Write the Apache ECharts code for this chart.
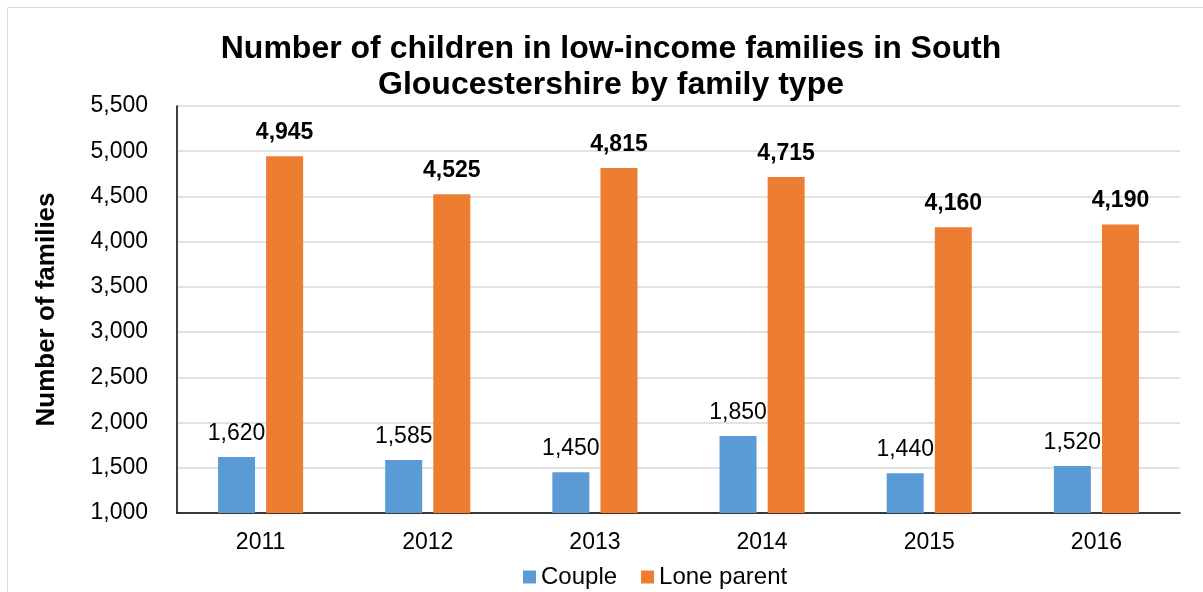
<!DOCTYPE html>
<html>
<head>
<meta charset="utf-8">
<script src="https://cdn.jsdelivr.net/npm/echarts@6/dist/echarts.min.js"></script>
<style>
  html, body { margin: 0; padding: 0; background: #fff; }
  #chart { width: 1203px; height: 592px; }
</style>
</head>
<body>
<div id="chart"></div>
<script>
// data
const years = ['2011', '2012', '2013', '2014', '2015', '2016'];
const couple = [1620, 1585, 1450, 1850, 1440, 1520];
const loneParent = [4945, 4525, 4815, 4715, 4160, 4190];

const fontFam = '"Liberation Sans", Arial, sans-serif';
const fmt = (p) => p.value.toLocaleString('en-US');

let myChart = echarts.init(document.getElementById('chart'));
let option = {
  color: ['#5B9BD5', '#ED7D31'],
  textStyle: { fontFamily: fontFam, color: '#000' },
  title: {
    text: 'Number of children in low-income families in South\nGloucestershire by family type',
    left: 606,
    textAlign: 'center',
    top: 26,
    textStyle: {
      fontSize: 32,
      fontWeight: 'bold',
      color: '#000',
      lineHeight: 36,
      fontFamily: fontFam,
    },
  },
  // outer frame
  graphic: [{
    type: 'rect',
    shape: { x: 7.5, y: 7.5, width: 1205, height: 600 },
    style: { fill: 'none', stroke: '#d9d9d9', lineWidth: 1 },
    silent: true,
  }],
  legend: {
    bottom: -2,
    left: 518,
    itemWidth: 13,
    itemHeight: 13,
    itemGap: 24,
    icon: 'rect',
    textStyle: { fontSize: 24, color: '#000', fontFamily: fontFam },
    data: ['Couple', 'Lone parent'],
  },
  grid: {
    left: 177,
    right: 23,
    top: 106,
    bottom: 79,
  },
  xAxis: {
    type: 'category',
    data: years,
    axisTick: { show: false },
    axisLine: { lineStyle: { color: '#000', width: 1.5 } },
    axisLabel: { fontSize: 23, color: '#000', margin: 18, fontFamily: fontFam },
  },
  yAxis: {
    type: 'value',
    min: 1000,
    max: 5500,
    interval: 500,
    name: 'Number of families',
    nameLocation: 'middle',
    nameRotate: 90,
    nameGap: 117,
    nameTextStyle: { fontSize: 26, fontWeight: 'bold', color: '#000', fontFamily: fontFam },
    axisLine: { show: true, lineStyle: { color: '#000', width: 1.5 } },
    axisTick: { show: false },
    splitLine: { lineStyle: { color: '#d9d9d9', width: 1.5 } },
    axisLabel: {
      fontSize: 23,
      color: '#000',
      margin: 29,
      fontFamily: fontFam,
      formatter: (v) => v.toLocaleString('en-US'),
    },
  },
  series: [
    {
      name: 'Couple',
      type: 'bar',
      barWidth: 37,
      barGap: '30%',
      data: couple,
      label: {
        show: true,
        position: 'top',
        distance: 12,
        fontSize: 23,
        color: '#000',
        fontFamily: fontFam,
        formatter: fmt,
      },
    },
    {
      name: 'Lone parent',
      type: 'bar',
      barWidth: 37,
      data: loneParent,
      label: {
        show: true,
        position: 'top',
        distance: 12,
        fontSize: 23,
        fontWeight: 'bold',
        color: '#000',
        fontFamily: fontFam,
        formatter: fmt,
      },
    },
  ],
};
myChart.setOption(option);
window.addEventListener('resize', () => { myChart.resize(); });
</script>
</body>
</html>
